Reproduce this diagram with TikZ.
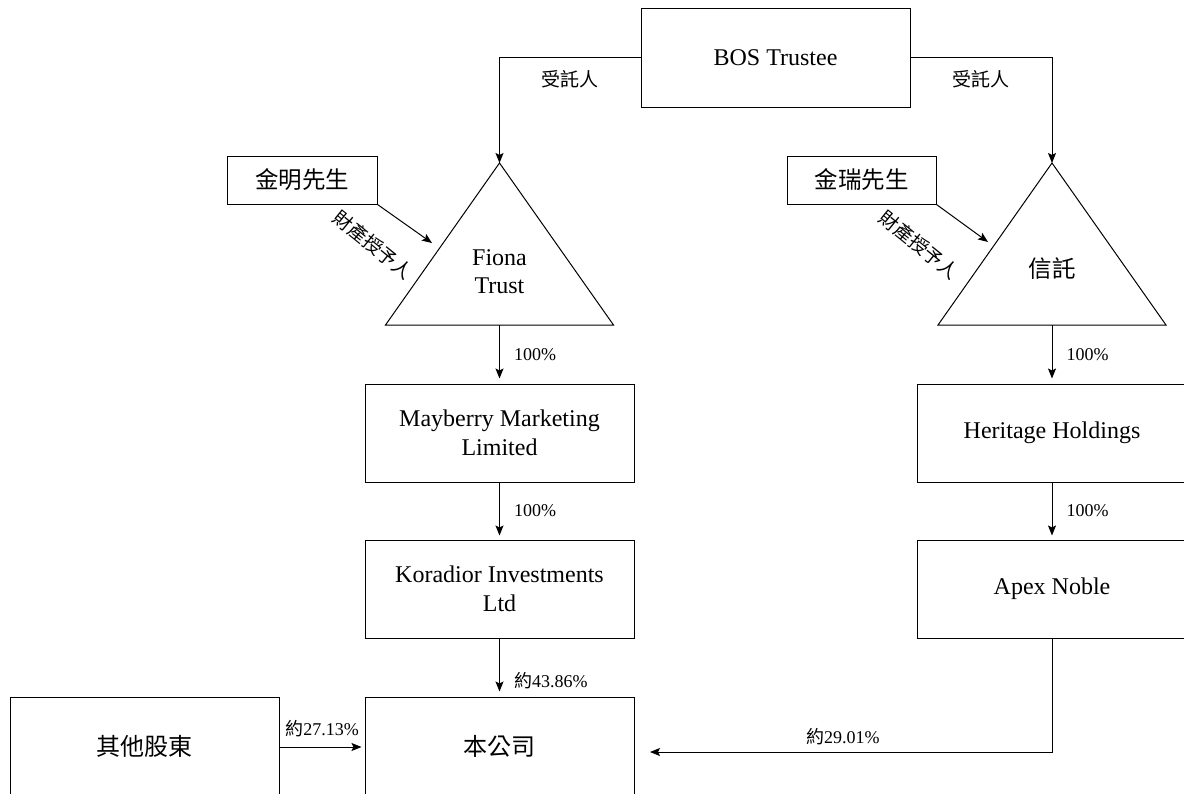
\documentclass[tikz,border=0pt]{standalone}
\usepackage{fontspec}
\setmainfont{Liberation Serif}
\newfontfamily\cjk{Noto Sans CJK TC}
\usetikzlibrary{arrows.meta}

\tikzset{
  entity/.style={draw, line width=1pt, minimum width=269pt, minimum height=98pt,
    inner sep=0pt, align=center, font=\fontsize{24}{29}\selectfont},
  person/.style={draw, line width=1pt, minimum width=150pt, minimum height=48pt,
    inner sep=0pt, font=\cjk\fontsize{23.5}{27}\selectfont},
  share/.style={font=\fontsize{18}{21}\selectfont, inner sep=2pt},
  role/.style={font=\cjk\fontsize{19}{22}\selectfont, inner sep=0pt},
  link/.style={line width=1pt, -{Stealth[length=10pt,width=8pt,inset=2pt]}},
}

\begin{document}
\begin{tikzpicture}[x=1pt, y=-1pt]
	\useasboundingbox (0,0) rectangle (1184,793);
	\clip (0,0) rectangle (1184,793);

	%% top
	\node[entity, minimum height=99pt] (bos) at (775.5,57.5) {BOS Trustee};

	% trusts
	\coordinate (fionatop) at (499.5,163);
	\coordinate (fionabase) at (499.5,325);
	\draw[line width=1pt] (fionatop) -- (385.5,325) -- (613.5,325) -- cycle;
	\node[font=\fontsize{24}{28}\selectfont, align=center] (fiona) at (499.5,272) {Fiona\\Trust};

	\coordinate (trusttop) at (1052,163);
	\coordinate (trustbase) at (1052,325);
	\draw[line width=1pt] (trusttop) -- (938,325) -- (1166,325) -- cycle;
	\node[font=\cjk\fontsize{23.5}{27}\selectfont] (trust) at (1052,269) {信託};

	% settlors
	\node[person] (jinming) at (302,180) {金明先生};
	\node[person, minimum width=149pt] (jinrui) at (861.5,180) {金瑞先生};
	\coordinate (jmtip) at (432,243);
	\coordinate (jrtip) at (988,242);

	\draw[link] (bos.west) -| (fionatop);
	\draw[link] (bos.east) -| (trusttop);
	\node[role] at (570,79) {受託人};
	\node[role] at (981,79) {受託人};

	\draw[link] (jinming.south east) -- (jmtip);
	\draw[link] (jinrui.south east) -- (jrtip);
	\node[role, rotate=-39] at (373,245) {財產授予人};
	\node[role, rotate=-39] at (919,245) {財產授予人};

	%% left chain
	\node[entity] (mayberry) at (499.5,433) {Mayberry Marketing\\Limited};
	\node[entity] (koradior) at (499.5,589) {Koradior Investments\\Ltd};
	\node[entity, font=\cjk\fontsize{24}{29}\selectfont] (company) at (499.5,746) {本公司};
	\node[entity, font=\cjk\fontsize{24}{29}\selectfont] (others) at (144.5,746) {其他股東};

	\draw[link, shorten >=5pt] (fionabase) -- (mayberry.north)
		node[share, right=12pt, pos=0.5] {100\%};
	\draw[link, shorten >=4pt] (mayberry.south) -- (koradior.north)
		node[share, right=12pt, pos=0.5] {100\%};
	\draw[link, shorten >=5pt] (koradior.south) -- (company.north)
		node[share, right=12pt, pos=0.72] {{\cjk 約}43.86\%};
	\draw[link, shorten >=3pt] ([yshift=-1pt]others.east) -- ([yshift=-1pt]company.west)
		node[share, above=8pt, midway] {{\cjk 約}27.13\%};

	%% right chain
	\node[entity] (heritage) at (1052,433) {Heritage Holdings};
	\node[entity] (apex) at (1052,589) {Apex Noble};
	\coordinate (apextip) at (650,752);

	\draw[link, shorten >=5pt] (trustbase) -- (heritage.north)
		node[share, right=12pt, pos=0.5] {100\%};
	\draw[link, shorten >=4pt] (heritage.south) -- (apex.north)
		node[share, right=12pt, pos=0.5] {100\%};
	\draw[link] (apex.south) |- (apextip)
		node[share, above=5pt, pos=0.76] {{\cjk 約}29.01\%};
\end{tikzpicture}
\end{document}
